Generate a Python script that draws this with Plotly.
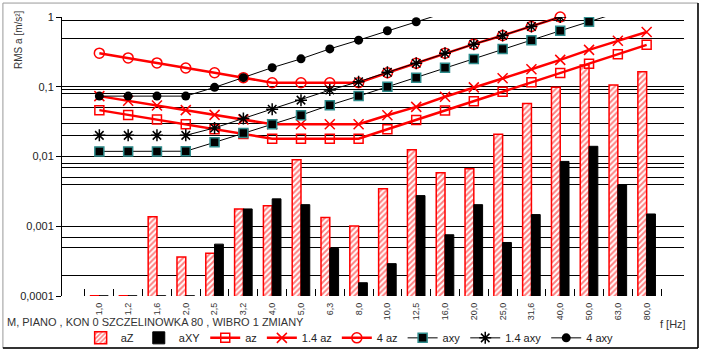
import plotly.graph_objects as go

freq_labels = ["1,0", "1,2", "1,6", "2,0", "2,5", "3,2", "4,0", "5,0", "6,3", "8,0",
               "10,0", "12,5", "16,0", "20,0", "25,0", "31,6", "40,0", "50,0", "63,0", "80,0"]

aZ_bar = [0.000101, 0.000101, 0.00137, 0.000363, 0.000411, 0.00177, 0.00197, 0.0090, 0.00134, 0.00101,
          0.00344, 0.01253, 0.00585, 0.00667, 0.0208, 0.0577, 0.098, 0.2055, 0.1058, 0.1645]
aXY_bar = [0.000101, 0.000101, 0.000101, 0.000101, 0.000554, 0.00177, 0.00247, 0.00204, 0.00048, 0.000155,
           0.000291, 0.00275, 0.000755, 0.00204, 0.000585, 0.00147, 0.0085, 0.0140, 0.00392, 0.0015]

az = [0.0462, 0.0395, 0.0338, 0.0289, 0.0246, 0.0211, 0.0180, 0.0180, 0.0180, 0.0180,
      0.0246, 0.0335, 0.0457, 0.0622, 0.0847, 0.1157, 0.1576, 0.2145, 0.293, 0.399]
az_14 = [0.0734, 0.0628, 0.0540, 0.0462, 0.0395, 0.0339, 0.0290, 0.0290, 0.0290, 0.0290,
         0.0391, 0.0515, 0.0718, 0.098, 0.132, 0.178, 0.2426, 0.338, 0.4555, 0.608]
az_4 = [0.303, 0.259, 0.2195, 0.186, 0.159, 0.1349, 0.1142, 0.1142, 0.1142, 0.1142,
        0.159, 0.2173, 0.303, 0.408, 0.543, 0.732, 1.0, None, None, None]

axy = [0.01184, 0.01184, 0.01184, 0.0119, 0.01596, 0.02173, 0.0290, 0.0391, 0.0545, 0.0734,
       0.100, 0.1349, 0.188, 0.2506, 0.349, 0.466, 0.635, 0.856, 1.15, None]
axy_14 = [0.0201, 0.0201, 0.0201, 0.0201, 0.0257, 0.0351, 0.0477, 0.0643, 0.0896, 0.118,
          0.161, 0.217, 0.303, 0.408, 0.543, 0.732, 1.0, None, None, None]
axy_4 = [0.0734, 0.0734, 0.0734, 0.0734, 0.098, 0.135, 0.188, 0.251, 0.349, 0.466,
         0.635, 0.856, 1.15, None, None, None, None, None, None, None]

y_tick_vals = [1, 0.1, 0.01, 0.001, 0.0001]
y_tick_text = ["1", "0,1", "0,01", "0,001", "0,0001"]
grid_vals = [0.9, 0.5, 0.1, 0.09, 0.08, 0.05, 0.03, 0.02, 0.01, 0.008, 0.007, 0.005, 0.004,
             0.001, 0.0007, 0.0005, 0.0002]

RED = "#FF0000"
TEAL = "#2E8B8B"

fig = go.Figure()
fig.add_trace(go.Bar(
    x=freq_labels, y=aZ_bar, name="aZ",
    marker=dict(color="white", line=dict(color=RED, width=1.5),
                pattern=dict(shape="/", fgcolor=RED, bgcolor="white", size=4, solidity=0.5)),
))
fig.add_trace(go.Bar(
    x=freq_labels, y=aXY_bar, name="aXY",
    marker=dict(color="black", line=dict(color="black", width=1)),
))
fig.add_trace(go.Scatter(
    x=freq_labels, y=az, name="az", mode="lines+markers",
    line=dict(color=RED, width=2.5),
    marker=dict(symbol="square-open", size=9, color=RED, line=dict(color=RED, width=1.5)),
))
fig.add_trace(go.Scatter(
    x=freq_labels, y=az_14, name="1.4 az", mode="lines+markers",
    line=dict(color=RED, width=2.5),
    marker=dict(symbol="x-thin-open", size=10, color=RED, line=dict(color=RED, width=1.5)),
))
fig.add_trace(go.Scatter(
    x=freq_labels, y=az_4, name="4 az", mode="lines+markers",
    line=dict(color=RED, width=2.5), cliponaxis=False,
    marker=dict(symbol="circle-open", size=10, color=RED, line=dict(color=RED, width=1.5)),
))
fig.add_trace(go.Scatter(
    x=freq_labels, y=axy, name="axy", mode="lines+markers",
    line=dict(color="black", width=1),
    marker=dict(symbol="square", size=9, color="black", line=dict(color=TEAL, width=1.5)),
))
fig.add_trace(go.Scatter(
    x=freq_labels, y=axy_14, name="1.4 axy", mode="lines+markers",
    line=dict(color="black", width=1),
    marker=dict(symbol="asterisk-open", size=10, color="black", line=dict(color="black", width=1.5)),
))
fig.add_trace(go.Scatter(
    x=freq_labels, y=axy_4, name="4 axy", mode="lines+markers",
    line=dict(color="black", width=1),
    marker=dict(symbol="circle", size=9, color="black"),
))

fig.update_layout(
    width=701, height=353,
    margin=dict(l=62, r=17, t=17, b=57, autoexpand=False),
    paper_bgcolor="white", plot_bgcolor="white",
    font=dict(family="Liberation Sans, Arial, sans-serif", size=10, color="#222"),
    barmode="group", bargap=0.39, bargroupgap=0,
    showlegend=True,
    legend=dict(orientation="h", x=0.03, y=-0.15, xanchor="left", yanchor="middle",
                font=dict(size=11), itemwidth=30, bgcolor="rgba(0,0,0,0)",
                traceorder="normal"),
    xaxis=dict(type="category", showline=False, showgrid=False, zeroline=False,
               ticks="inside", ticklen=7, tickcolor="black", tickwidth=1,
               tickson="boundaries", tickangle=-90, ticklabelstandoff=4,
               tickfont=dict(size=9, color="#333")),
    yaxis=dict(type="log", range=[-4, 0], showline=True, linecolor="black", linewidth=1,
               showgrid=False, zeroline=False, ticks="outside", ticklen=5, tickcolor="black",
               tickvals=y_tick_vals, ticktext=y_tick_text, tickfont=dict(size=11, color="#222"),
               minor=dict(tickmode="array", tickvals=grid_vals, showgrid=True,
                          gridcolor="black", gridwidth=1, ticks="")),
    shapes=[
        dict(type="rect", xref="paper", yref="paper", x0=-0.095, x1=1.0225, y0=-0.1864, y1=1.05,
             line=dict(color="#999", width=1)),
        dict(type="line", xref="paper", yref="paper", x0=1.0225, x1=1.0225, y0=-0.1864, y1=1.05,
             line=dict(color="black", width=1.5)),
        dict(type="line", xref="paper", yref="paper", x0=-0.095, x1=1.0225, y0=-0.1864, y1=-0.1864,
             line=dict(color="black", width=1.5)),
    ],
    annotations=[
        dict(text="RMS a [m/s²]", xref="paper", yref="paper", x=-0.069, y=0.918,
             textangle=-90, showarrow=False, font=dict(size=10, color="#333"),
             xanchor="center", yanchor="middle"),
        dict(text="M, PIANO , KON 0 SZCZELINOWKA 80 , WIBRO 1 ZMIANY", xref="paper", yref="paper",
             x=-0.092, y=-0.093, xanchor="left", yanchor="middle", showarrow=False,
             font=dict(size=11, color="#333")),
        dict(text="f [Hz]", xref="paper", yref="paper", x=1.0064, y=-0.10,
             xanchor="right", yanchor="middle", showarrow=False, font=dict(size=11, color="#333")),
    ],
)

fig.write_html("out.html")
